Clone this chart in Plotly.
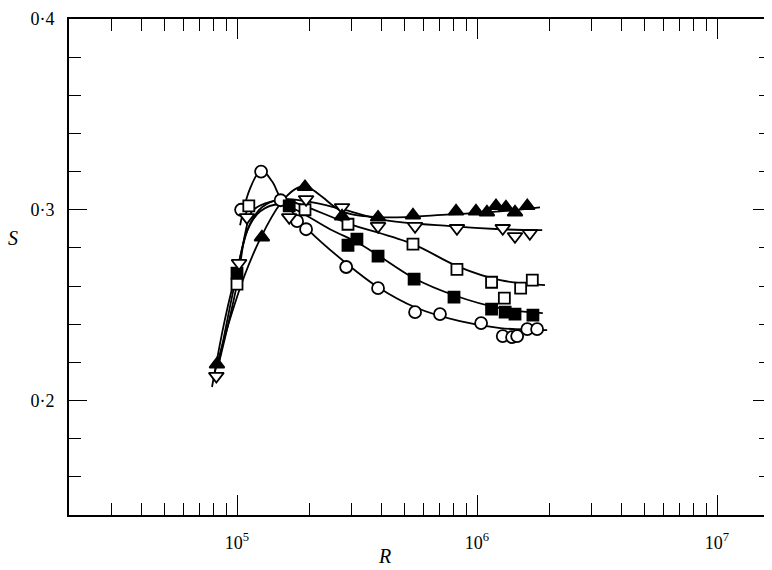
import plotly.graph_objects as go

# ---- measured points ----
tri_up_R = [8.25e4, 1.27e5, 1.92e5, 2.74e5, 3.87e5, 5.41e5, 8.18e5, 9.9e5, 1.10e6, 1.20e6, 1.32e6, 1.44e6, 1.62e6]
tri_up_S = [0.219, 0.2856, 0.312, 0.2966, 0.296, 0.2971, 0.2992, 0.2992, 0.2987, 0.302, 0.3013, 0.2987, 0.302]

tri_dn_R = [8.2e4, 1.02e5, 1.10e5, 1.65e5, 1.94e5, 2.74e5, 3.87e5, 5.52e5, 8.25e5, 1.28e6, 1.44e6, 1.66e6]
tri_dn_S = [0.2128, 0.272, 0.296, 0.296, 0.3055, 0.3013, 0.2914, 0.2914, 0.2903, 0.2903, 0.2861, 0.2877]

sq_open_R = [1.0e5, 1.12e5, 1.92e5, 2.90e5, 5.41e5, 8.25e5, 1.15e6, 1.30e6, 1.52e6, 1.70e6]
sq_open_S = [0.261, 0.302, 0.300, 0.2924, 0.282, 0.2688, 0.262, 0.2537, 0.2589, 0.2631]

sq_fill_R = [1.0e5, 1.65e5, 2.90e5, 3.16e5, 3.87e5, 5.47e5, 8.02e5, 1.15e6, 1.31e6, 1.44e6, 1.71e6]
sq_fill_S = [0.2668, 0.302, 0.2814, 0.2846, 0.2757, 0.2636, 0.2542, 0.2479, 0.2463, 0.2453, 0.2448]

circ_R = [1.04e5, 1.26e5, 1.52e5, 1.78e5, 1.94e5, 2.85e5, 3.87e5, 5.52e5, 7.01e5, 1.04e6, 1.28e6, 1.40e6, 1.47e6, 1.62e6, 1.78e6]
circ_S = [0.300, 0.320, 0.305, 0.294, 0.2898, 0.270, 0.2589, 0.2463, 0.2453, 0.2406, 0.2338, 0.2332, 0.2338, 0.2374, 0.2374]

# ---- fitted curves ----
fit_circ_R = [1.03e5, 1.13e5, 1.26e5, 1.40e5, 1.52e5, 1.78e5, 2.01e5, 2.85e5, 3.87e5, 5.52e5, 8.49e5, 1.25e6, 1.96e6]
fit_circ_S = [0.2919, 0.3107, 0.3207, 0.3149, 0.306, 0.2961, 0.2887, 0.272, 0.2594, 0.2489, 0.2416, 0.238, 0.2369]

fit_up_R = [7.94e4, 9.35e4, 1.08e5, 1.27e5, 1.51e5, 1.74e5, 1.94e5, 2.22e5, 2.74e5, 3.95e5, 7.72e5, 1.25e6, 1.83e6]
fit_up_S = [0.2113, 0.2427, 0.2662, 0.2866, 0.3029, 0.3107, 0.3123, 0.3076, 0.2992, 0.2961, 0.2976, 0.2992, 0.3013]

fit_dn_R = [7.87e4, 8.91e4, 1.02e5, 1.13e5, 1.27e5, 1.51e5, 1.94e5, 2.74e5, 3.95e5, 7.72e5, 1.25e6, 1.87e6]
fit_dn_S = [0.2071, 0.2427, 0.273, 0.2924, 0.3013, 0.3055, 0.3045, 0.3003, 0.295, 0.2914, 0.2898, 0.2893]

fit_sqo_R = [8.33e4, 1.0e5, 1.08e5, 1.155e5, 1.31e5, 1.585e5, 1.92e5, 2.90e5, 5.41e5, 8.25e5, 1.25e6, 1.92e6]
fit_sqo_S = [0.2175, 0.261, 0.2872, 0.2992, 0.3034, 0.305, 0.3018, 0.2929, 0.282, 0.2705, 0.2631, 0.2605]

fit_sqf_R = [8.33e4, 1.0e5, 1.10e5, 1.25e5, 1.51e5, 1.74e5, 2.44e5, 3.16e5, 3.87e5, 5.47e5, 8.02e5, 1.25e6, 1.88e6]
fit_sqf_S = [0.2175, 0.2668, 0.2887, 0.2992, 0.3029, 0.3003, 0.2898, 0.283, 0.2762, 0.2641, 0.2552, 0.2484, 0.2458]

x_major = [1e5, 1e6, 1e7]
x_major_text = ["10<sup>5</sup>", "10<sup>6</sup>", "10<sup>7</sup>"]
y_major = [0.2, 0.3, 0.4]
y_major_text = ["0·2", "0·3", "0·4"]

x_minor = [k * 10 ** e for e in (4, 5, 6, 7) for k in range(2, 10) if 2e4 <= k * 10 ** e <= 1.7e7]
y_minor = [round(0.14 + 0.02 * i, 2) for i in range(14)]
y_minor = [v for v in y_minor if v not in y_major]

fig = go.Figure()

for R, S in [(fit_circ_R, fit_circ_S), (fit_up_R, fit_up_S), (fit_dn_R, fit_dn_S),
             (fit_sqo_R, fit_sqo_S), (fit_sqf_R, fit_sqf_S)]:
    fig.add_trace(go.Scatter(x=R, y=S, mode="lines", line=dict(color="black", width=1.8, shape="spline", smoothing=1.0),
                             showlegend=False, hoverinfo="skip"))

def pts(R, S, symbol, fill, size):
    fig.add_trace(go.Scatter(x=R, y=S, mode="markers",
                             marker=dict(symbol=symbol, size=size, color=fill, line=dict(color="black", width=1.8)),
                             showlegend=False))

pts(circ_R, circ_S, "circle", "white", 12)
pts(sq_open_R, sq_open_S, "square", "white", 11)
pts(sq_fill_R, sq_fill_S, "square", "black", 11)
pts(tri_dn_R, tri_dn_S, "triangle-down", "white", 13)
pts(tri_up_R, tri_up_S, "triangle-up", "black", 13)

font = dict(family="Liberation Serif", size=18, color="black")

# the page body adds an 8px offset, so the figure is 8px smaller and margins are shifted
fig.update_layout(
    width=764, height=562,
    margin=dict(l=61, r=1, t=11, b=55, autoexpand=False),
    paper_bgcolor="white", plot_bgcolor="white",
    font=font,
    xaxis=dict(type="log", range=[4.3, 7.225], showgrid=False, zeroline=False, automargin=False,
               showline=True, linecolor="black", linewidth=2, mirror="ticks",
               ticks="inside", ticklen=20, tickwidth=1.2, tickcolor="black",
               ticklabelstandoff=10,
               tickmode="array", tickvals=x_major, ticktext=x_major_text,
               minor=dict(ticks="inside", ticklen=12, tickwidth=1.2, tickcolor="black",
                          tickmode="array", tickvals=x_minor, showgrid=False)),
    yaxis=dict(range=[0.14, 0.4], showgrid=False, zeroline=False, automargin=False,
               showline=True, linecolor="black", linewidth=2, mirror="ticks",
               ticks="inside", ticklen=18, tickwidth=1.2, tickcolor="black",
               ticklabelstandoff=9,
               tickmode="array", tickvals=y_major, ticktext=y_major_text,
               minor=dict(ticks="inside", ticklen=12, tickwidth=1.2, tickcolor="black",
                          tickmode="array", tickvals=y_minor, showgrid=False)),
    annotations=[
        dict(text="<i>R</i>", xref="paper", yref="paper", x=0.449, y=-0.056, showarrow=False,
             font=dict(family="Liberation Serif", size=20), yanchor="top"),
        dict(text="<i>S</i>", xref="paper", yref="paper", x=-0.08, y=0.558, showarrow=False,
             font=dict(family="Liberation Serif", size=20), xanchor="center"),
    ],
)

fig.write_html("out.html")
